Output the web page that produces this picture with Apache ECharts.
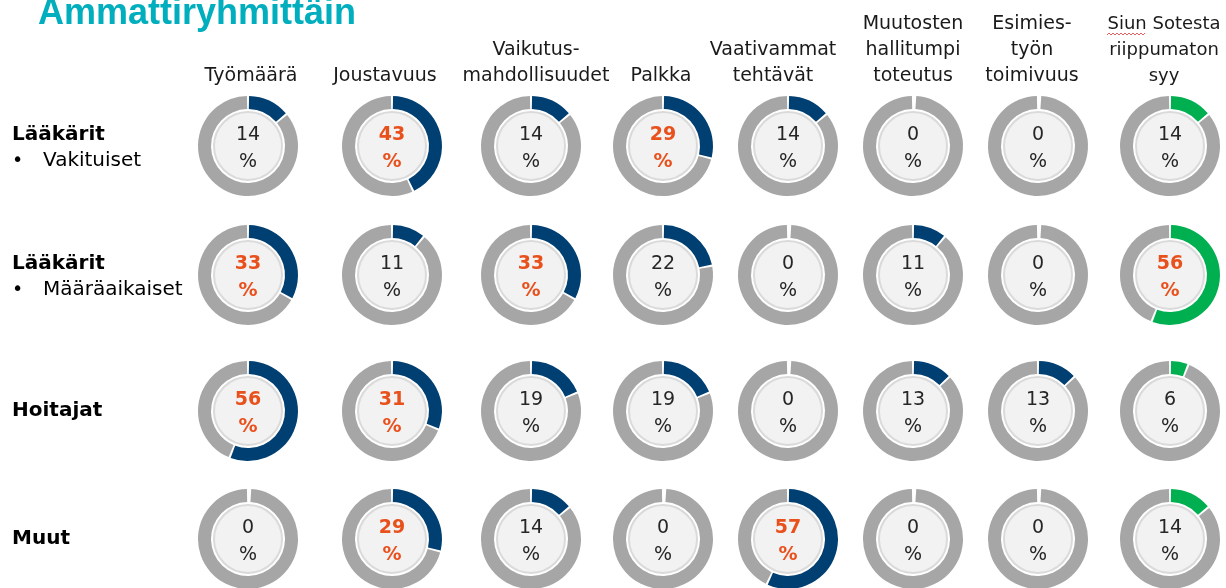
<!DOCTYPE html>
<html>
<head>
<meta charset="utf-8">
<script src="https://cdn.jsdelivr.net/npm/echarts@6/dist/echarts.min.js"></script>
<style>
  html, body { margin: 0; padding: 0; background: #fff; }
  #chart { width: 1226px; height: 588px; }
</style>
</head>
<body>
<div id="chart"></div>
<script>
// Otsikot ja data
const title = 'Ammattiryhmittäin';
const columns = [
  'Työmäärä',
  'Joustavuus',
  'Vaikutus-\nmahdollisuudet',
  'Palkka',
  'Vaativammat\ntehtävät',
  'Muutosten\nhallitumpi\ntoteutus',
  'Esimies-\ntyön\ntoimivuus',
  'Siun Sotesta\nriippumaton\nsyy'
];
const groups = ['Lääkärit', 'Lääkärit', 'Hoitajat', 'Muut'];
const subgroups = ['Vakituiset', 'Määräaikaiset', '', ''];

const vakituiset    = [14, 43, 14, 29, 14, 0, 0, 14];
const maaraaikaiset = [33, 11, 33, 22, 0, 11, 0, 56];
const hoitajat      = [56, 31, 19, 19, 0, 13, 13, 6];
const muut          = [0, 29, 14, 0, 57, 0, 0, 14];
const values = [vakituiset, maaraaikaiset, hoitajat, muut];

// korostetut (oranssit) arvot
const highlight = [
  [0, 1, 0, 1, 0, 0, 0, 0],
  [1, 0, 1, 0, 0, 0, 0, 1],
  [1, 1, 0, 0, 0, 0, 0, 0],
  [0, 1, 0, 0, 1, 0, 0, 0]
];

// Asettelu
const colX = [248, 392, 531, 663, 788, 913, 1038, 1170];
const headerX = [251, 385, 536, 661, 773, 913, 1032, 1164];
const rowY = [146, 275, 411, 539];
const BLUE = '#003f72';
const GREEN = '#00b050';
const GREY = '#a6a6a6';
const ORANGE = '#e8501c';
const FONT = 'DejaVu Sans';

const series = [];
values.forEach((row, r) => {
  row.forEach((v, c) => {
    const center = [colX[c], rowY[r]];
    series.push({
      type: 'pie',
      center,
      radius: [37, 50],
      startAngle: 90,
      clockwise: true,
      padAngle: 2.5,
      silent: true,
      animation: false,
      label: { show: false },
      labelLine: { show: false },
      data: [
        { value: v, itemStyle: { color: c === 7 ? GREEN : BLUE } },
        { value: 100 - v, itemStyle: { color: GREY } }
      ]
    });
    const hi = highlight[r][c] === 1;
    series.push({
      type: 'pie',
      center,
      radius: [0, 34],
      silent: true,
      animation: false,
      labelLine: { show: false },
      itemStyle: { color: '#f2f2f2', borderColor: '#dadada', borderWidth: 2 },
      label: {
        show: true,
        position: 'center',
        padding: [6, 0, 0, 0],
        formatter: () => `{v|${v}}\n{v|%}`,
        rich: {
          v: {
            fontFamily: FONT,
            fontSize: 19,
            lineHeight: 27,
            fontWeight: hi ? 'bold' : 'normal',
            color: hi ? ORANGE : '#262626'
          }
        }
      },
      data: [{ value: 1 }]
    });
  });
});

const graphic = [];
graphic.push({
  type: 'text', left: 38, top: -4,
  style: { text: title, font: 'bold 36px "Liberation Sans", Arial', fill: '#00aebd' }
});
columns.forEach((name, c) => {
  const lines = name.split('\n').length;
  graphic.push({
    type: 'text', x: headerX[c], y: 89 - lines * 26,
    style: {
      text: name, font: `${c === 7 ? 18 : 19}px "${FONT}"`, fill: '#1a1a1a',
      align: 'center', verticalAlign: 'top', lineHeight: 26
    }
  });
});
groups.forEach((g, r) => {
  const sub = subgroups[r];
  const y = sub ? rowY[r] - 11 : rowY[r];
  graphic.push({
    type: 'text', x: 12, y,
    style: { text: g, font: `bold 20px "${FONT}"`, fill: '#000', verticalAlign: 'middle' }
  });
  if (sub) {
    graphic.push({
      type: 'text', x: 12, y: rowY[r] + 15,
      style: { text: '•', font: `19px "${FONT}"`, fill: '#000', verticalAlign: 'middle' }
    });
    graphic.push({
      type: 'text', x: 43, y: rowY[r] + 15,
      style: { text: sub, font: `20px "${FONT}"`, fill: '#000', verticalAlign: 'middle' }
    });
  }
});
// oikeinkirjoituksen aaltoviiva "Siun"-sanan alla
const wave = [];
for (let x = 1107; x <= 1146; x += 2) wave.push([x, (x - 1107) % 4 === 0 ? 35 : 33]);
graphic.push({
  type: 'polyline', shape: { points: wave },
  style: { stroke: '#e06060', lineWidth: 1, fill: null }
});

const chart = echarts.init(document.getElementById('chart'));
chart.setOption({
  backgroundColor: '#fff',
  animation: false,
  series,
  graphic
});
window.addEventListener('resize', () => chart.resize());
</script>
</body>
</html>
